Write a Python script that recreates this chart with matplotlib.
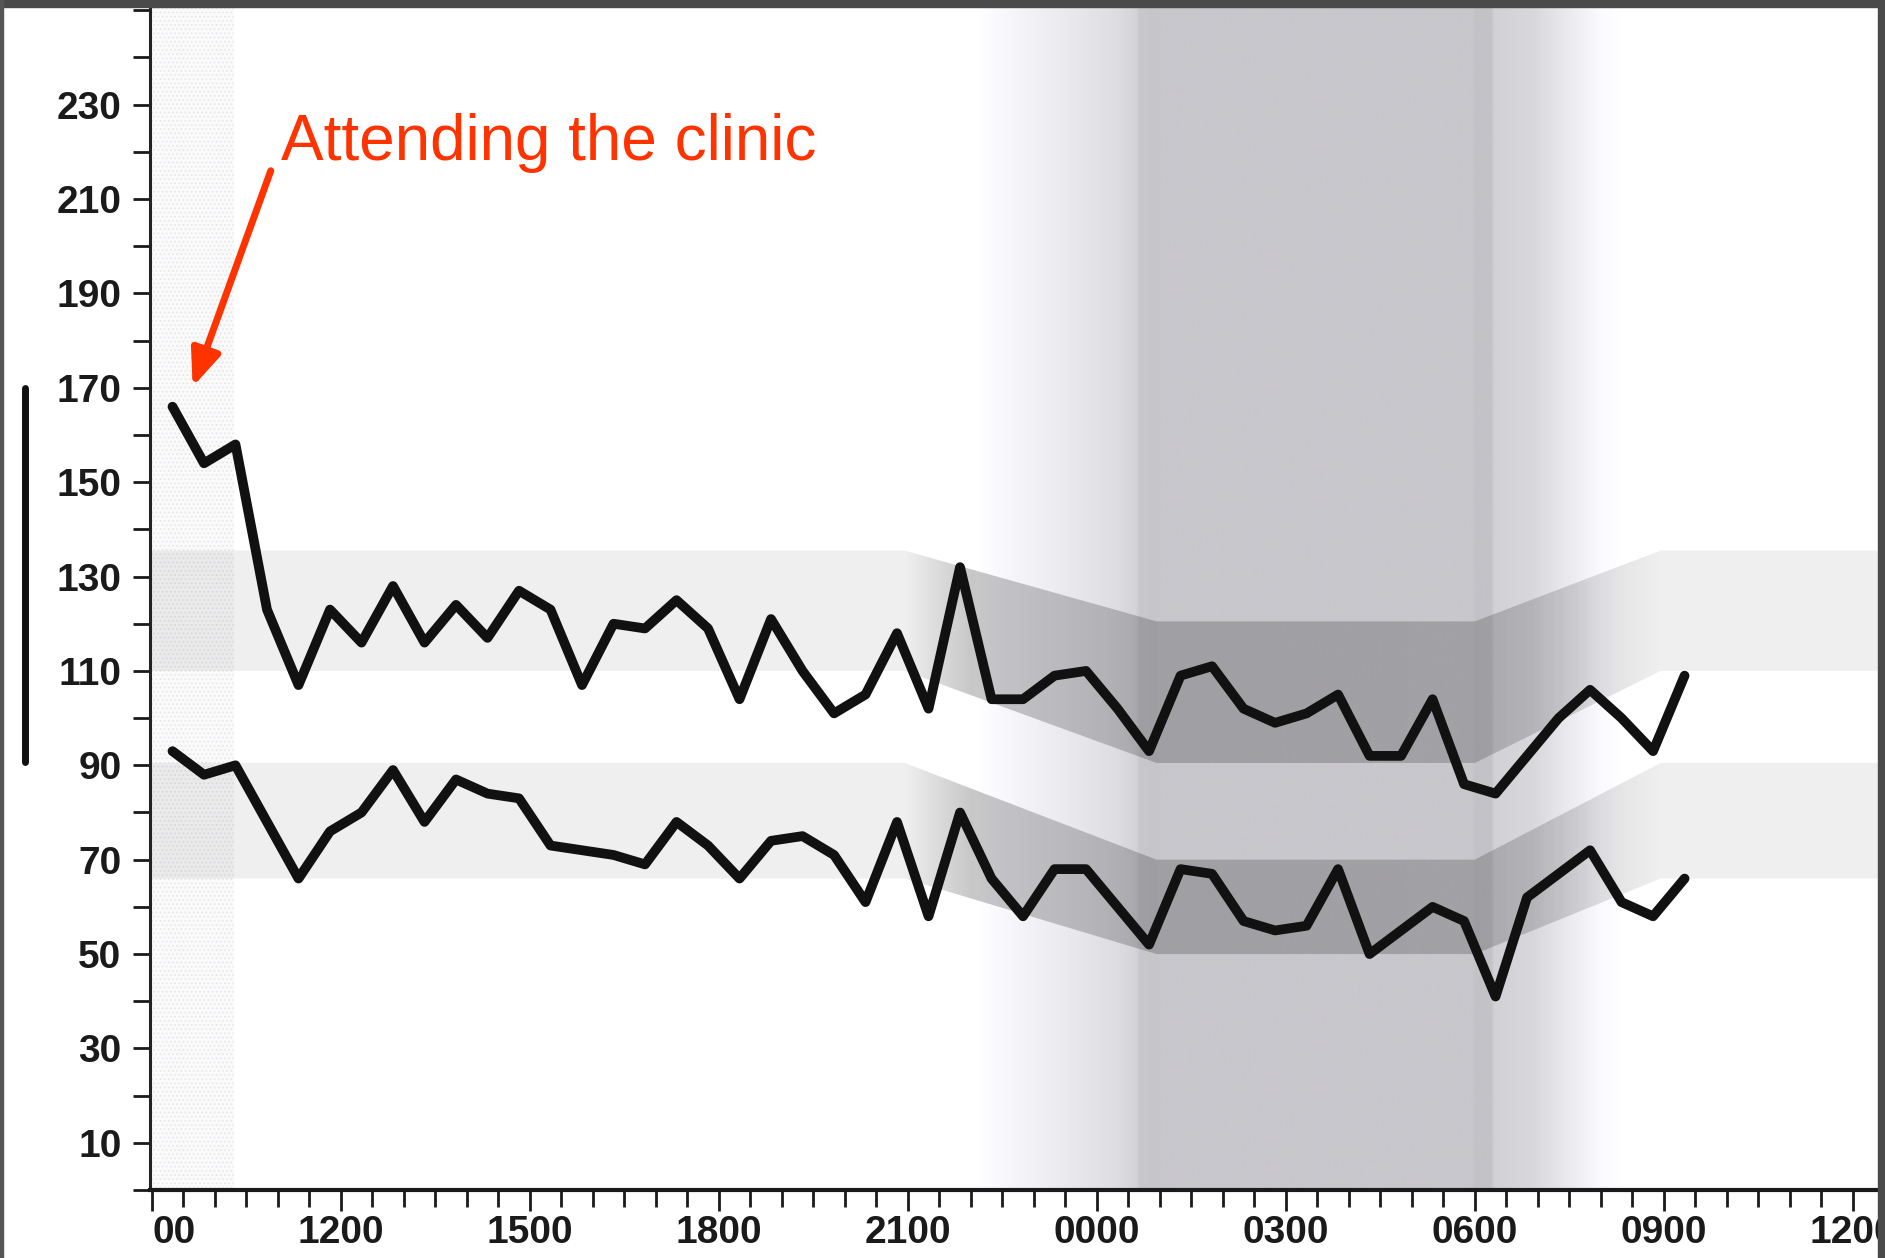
import numpy as np
import matplotlib.pyplot as plt
from matplotlib.patches import Rectangle
from matplotlib.lines import Line2D
from matplotlib.ticker import MultipleLocator

plt.rcParams['font.family'] = ['Liberation Sans', 'DejaVu Sans']
plt.rcParams['hatch.linewidth'] = 0.7

# ambulatory BP readings, every 30 min (hours from midnight of day 1)
hours = [9.33, 9.83, 10.33, 10.83, 11.33, 11.83, 12.33, 12.83, 13.33, 13.83,
         14.33, 14.83, 15.33, 15.83, 16.33, 16.83, 17.33, 17.83, 18.33, 18.83,
         19.33, 19.83, 20.33, 20.83, 21.33, 21.83, 22.33, 22.83, 23.33, 23.83,
         24.33, 24.83, 25.33, 25.83, 26.33, 26.83, 27.33, 27.83, 28.33, 28.83,
         29.33, 29.83, 30.33, 30.83, 31.33, 31.83, 32.33, 32.83, 33.33]
systolic = [166, 154, 158, 123, 107, 123, 116, 128, 116, 124,
            117, 127, 123, 107, 120, 119, 125, 119, 104, 121,
            110, 101, 105, 118, 102, 132, 104, 104, 109, 110,
            102, 93, 109, 111, 102, 99, 101, 105, 92, 92,
            104, 86, 84, 92, 100, 106, 100, 93, 109]
diastolic = [93, 88, 90, 78, 66, 76, 80, 89, 78, 87,
             84, 83, 73, 72, 71, 69, 78, 73, 66, 74,
             75, 71, 61, 78, 58, 80, 66, 58, 68, 68,
             60, 52, 68, 67, 57, 55, 56, 68, 50, 55,
             60, 57, 41, 62, 67, 72, 61, 58, 66]

# normal-range bands (day / night limits)
band_t = [8.9, 20.95, 24.95, 30.0, 32.95, 36.5]
sys_hi = [135.5, 135.5, 120.5, 120.5, 135.5, 135.5]
sys_lo = [110.0, 110.0, 90.5, 90.5, 110.0, 110.0]
dia_hi = [90.5, 90.5, 70.0, 70.0, 90.5, 90.5]
dia_lo = [66.0, 66.0, 50.0, 50.0, 66.0, 66.0]

xtick_pos = [9, 12, 15, 18, 21, 24, 27, 30, 33, 36]
xtick_lab = ['', '1200', '1500', '1800', '2100', '0000', '0300', '0600', '0900', '1200']
ytick_pos = [10, 30, 50, 70, 90, 110, 130, 150, 170, 190, 210, 230]

# night shading profile (grey level) and band darkness
shade_t = [22.1, 22.6, 23.4, 24.3, 24.62, 24.67, 24.95, 25.0, 29.95, 30.0, 30.25, 30.3, 30.9, 31.3, 32.0, 32.3]
shade_g = [255, 247, 236, 222, 212, 200, 198, 200, 200, 195, 195, 210, 216, 229, 251, 255]
alpha_t = [20.95, 22.0, 24.95, 30.0, 31.5, 32.95]
alpha_v = [0.065, 0.22, 0.20, 0.19, 0.15, 0.065]

x0, x1 = 8.973, 36.40
y0, y1 = 0, 250.7
W, H = 1885, 1258

fig = plt.figure(figsize=(W / 100, H / 100), dpi=100)
ax = fig.add_axes([150 / W, (H - 1190) / H, (1878 - 150) / W, (1190 - 7) / H])

xs = np.linspace(x0, x1, 2400)
g = np.interp(xs, shade_t, shade_g)
tint = (g < 254) * 4
bg = np.dstack([g, g - tint / 4, np.minimum(g + tint, 255)]) / 255.0
ax.imshow(bg, extent=[x0, x1, y0, y1], aspect='auto', zorder=0, interpolation='bilinear')

# stippled strip at the start of the recording
ax.axvspan(x0, 10.3, facecolor='#fafafb', edgecolor='#e6e6ea', hatch='....', lw=0, zorder=0.5)

a = np.interp(xs, alpha_t, alpha_v)
rgba = np.zeros((1, len(xs), 4))
rgba[..., 3] = a
for lo, hi in [(sys_lo, sys_hi), (dia_lo, dia_hi)]:
    poly = ax.fill_between(band_t, lo, hi, facecolor='none', edgecolor='none', zorder=1)
    im = ax.imshow(rgba, extent=[x0, x1, y0, y1], aspect='auto', zorder=2, interpolation='bilinear')
    im.set_clip_path(poly.get_paths()[0], transform=ax.transData)

ax.plot(hours, systolic, color='#111111', lw=7, solid_joinstyle='round', solid_capstyle='round', zorder=4)
ax.plot(hours, diastolic, color='#111111', lw=7, solid_joinstyle='round', solid_capstyle='round', zorder=4)

ax.set_xlim(x0, x1)
ax.set_ylim(y0, y1)

for s in ['top', 'right']:
    ax.spines[s].set_visible(False)
ax.spines['left'].set_linewidth(2.2)
ax.spines['left'].set_color('#222222')
ax.spines['bottom'].set_linewidth(3)
ax.spines['bottom'].set_color('#1a1a1a')

ax.set_xticks(xtick_pos)
ax.set_xticklabels(xtick_lab)
ax.xaxis.set_minor_locator(MultipleLocator(0.5))
ax.set_yticks(ytick_pos)
ax.yaxis.set_minor_locator(MultipleLocator(10))
ax.tick_params(axis='x', which='major', length=15, width=2, pad=3, labelsize=28, colors='#1a1a1a')
ax.tick_params(axis='x', which='minor', length=12, width=2, colors='#1a1a1a')
ax.tick_params(axis='y', which='both', length=12, width=2, pad=8.5, labelsize=28, colors='#1a1a1a')
for lab in ax.get_xticklabels() + ax.get_yticklabels():
    lab.set_fontweight('bold')

# partially visible "0900" label at the left end
ax.annotate('00', xy=(9.35, 0), xycoords=('data', 'axes fraction'), xytext=(0, -18),
            textcoords='offset points', ha='center', va='top', fontsize=28,
            fontweight='bold', color='#1a1a1a', annotation_clip=False)

red = '#ff3300'
ax.text(11.05, 218.3, 'Attending the clinic', color=red, fontsize=46, ha='left', va='baseline', zorder=6)
ax.annotate('', xy=(9.65, 170.2), xytext=(10.89, 216),
            arrowprops=dict(arrowstyle='-|>,head_length=1.1,head_width=0.45', mutation_scale=20,
                            color=red, lw=5, shrinkA=0, shrinkB=0), zorder=6)

# frame of the screenshot
fig.add_artist(Rectangle((0, 1 - 7 / H), 1, 7 / H, transform=fig.transFigure, color='#4a4a4a', zorder=10))
fig.add_artist(Rectangle((1878 / W, 0), 7 / W, 1, transform=fig.transFigure, color='#4a4a4a', zorder=10))
fig.add_artist(Rectangle((0, 0), 2.5 / W, 1, transform=fig.transFigure, color='#555555', zorder=10))
fig.add_artist(Line2D([25 / W, 25 / W], [(H - 388) / H, (H - 762) / H], lw=5, color='#111111',
                      solid_capstyle='round', transform=fig.transFigure, zorder=10))

fig.savefig('out.png', dpi=100)
